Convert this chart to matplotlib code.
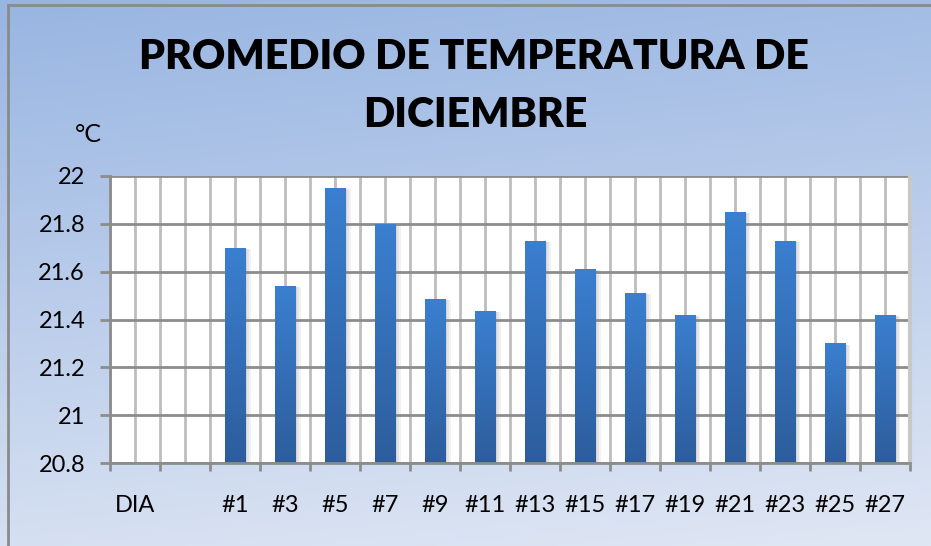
import numpy as np
import matplotlib
matplotlib.use('Agg')
import matplotlib.pyplot as plt
from matplotlib.patches import Rectangle
from matplotlib.colors import LinearSegmentedColormap

# Daily average temperature for December (odd days)
categories = ['DIA', '', '#1', '#3', '#5', '#7', '#9', '#11', '#13', '#15',
              '#17', '#19', '#21', '#23', '#25', '#27']
temps = [np.nan, np.nan, 21.70, 21.54, 21.95, 21.80, 21.485, 21.435, 21.73,
         21.61, 21.51, 21.42, 21.85, 21.73, 21.30, 21.42]
y_ticks = [20.8, 21.0, 21.2, 21.4, 21.6, 21.8, 22.0]
y_labels = ['20.8', '21', '21.2', '21.4', '21.6', '21.8', '22']

W, H = 931, 546
font = 'Lato'

fig = plt.figure(figsize=(W / 100, H / 100), dpi=100)

# Background gradient over the whole figure
bg = fig.add_axes([0, 0, 1, 1], zorder=0)
bg.set_axis_off()
yy = np.linspace(0, 1, 200)[:, None]
xx = np.linspace(0, 1, 200)[None, :]
t = np.clip(yy * 0.85 + xx * 0.15, 0, 1)
top_c = np.array([152, 181, 226]) / 255
bot_c = np.array([224, 231, 244]) / 255
img = top_c[None, None, :] * (1 - t[..., None]) + bot_c[None, None, :] * t[..., None]
bg.imshow(img, extent=[0, 1, 0, 1], aspect='auto', origin='upper')
bg.set_xlim(0, 1)
bg.set_ylim(0, 1)
bg.add_patch(Rectangle((8 / W, -0.01), 1.0, 1 - 5 / H + 0.01, fill=False,
                       edgecolor='#8a8a8a', lw=2, transform=bg.transAxes))

# Plot area
ax = fig.add_axes([110 / W, 1 - 463 / H, 800 / W, 287 / H], zorder=1)
ax.set_facecolor('white')
x = np.arange(len(categories))

# Grid: vertical lines at category edges and centres, horizontal at ticks
for gx in np.arange(-0.5, len(categories), 0.5):
    ax.axvline(gx, color='#bdbdbd', lw=2, zorder=0.5)
for gy in y_ticks:
    ax.axhline(gy, color='#8c8c8c', lw=2, zorder=0.6)

# Bars with a vertical gradient fill and a soft shadow
bar_w = 0.42
bars = ax.bar(x, np.array(temps) - 20.8, bottom=20.8, width=bar_w,
              color='none', edgecolor='none', zorder=2)
bar_cmap = LinearSegmentedColormap.from_list('barfill', ['#2d5d9c', '#3b7fd0'])
grad = np.linspace(0, 1, 256)[::-1, None]
for b, v in zip(bars, temps):
    if np.isnan(v):
        continue
    bx, bw = b.get_x(), b.get_width()
    for k, a in [(0.10, 0.10), (0.06, 0.12), (0.03, 0.14)]:
        ax.add_patch(Rectangle((bx + k, 20.8), bw, v - 20.8 - 0.005,
                               facecolor='#808080', alpha=a, lw=0, zorder=1.5))
    im = ax.imshow(grad, cmap=bar_cmap, extent=[bx, bx + bw, 20.8, v],
                   aspect='auto', zorder=2.5, vmin=0, vmax=1)
    im.set_clip_path(b)
ax.set_xlim(-0.5, len(categories) - 0.5)
ax.set_ylim(20.8, 22.0)

# Axes styling
ax.spines['top'].set_visible(False)
ax.spines['right'].set_color('#c8c8c8')
ax.spines['right'].set_linewidth(3)
ax.spines['left'].set_color('#8c8c8c')
ax.spines['left'].set_linewidth(2)
ax.spines['bottom'].set_color('#8c8c8c')
ax.spines['bottom'].set_linewidth(2)

ax.set_yticks(y_ticks)
ax.set_yticklabels(y_labels, fontsize=17, family=font)
ax.tick_params(axis='y', length=7, width=2, color='#8c8c8c', pad=11)

ax.set_xticks(np.arange(-0.5, len(categories), 1.0))
ax.set_xticklabels([])
ax.tick_params(axis='x', which='major', length=6, width=2, color='#8c8c8c')
ax.set_xticks(x, minor=True)
ax.set_xticklabels(categories, minor=True, fontsize=17, family=font)
ax.tick_params(axis='x', which='minor', length=0, pad=23)

# Title and unit label
fig.text(474 / W, 1 - 57 / H, 'PROMEDIO DE TEMPERATURA DE', ha='center', va='center',
         fontsize=29.5, fontweight='heavy', family=font)
fig.text(475 / W, 1 - 115 / H, 'DICIEMBRE', ha='center', va='center',
         fontsize=29.5, fontweight='heavy', family=font)
fig.text(88 / W, 1 - 134 / H, '°C', ha='center', va='center', fontsize=18, family=font)

fig.savefig('out.png', dpi=100)
